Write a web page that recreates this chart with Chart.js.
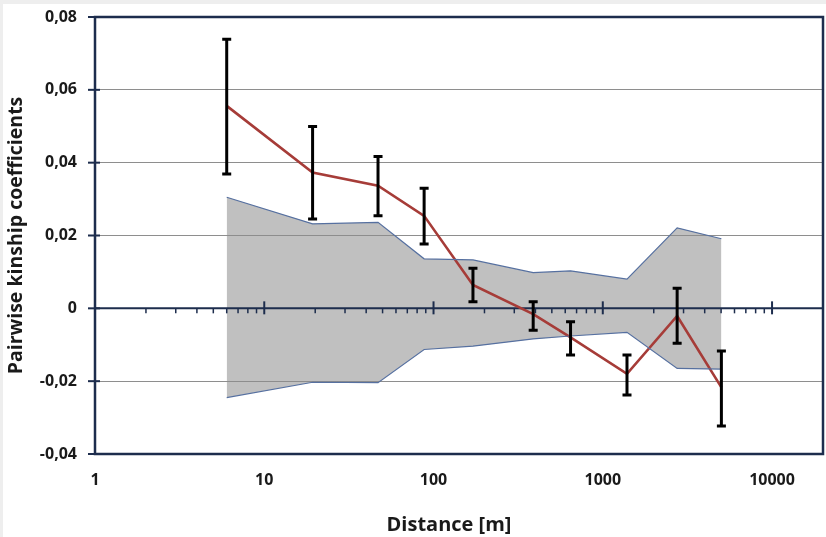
<!DOCTYPE html>
<html>
<head>
<meta charset="utf-8">
<script src="https://cdn.jsdelivr.net/npm/chart.js@4.4.1/dist/chart.umd.min.js"></script>
<style>
  html, body { margin: 0; padding: 0; background: #eeeeee; width: 826px; height: 537px; overflow: hidden; }
  #wrap { position: absolute; left: 3px; top: 4px; width: 823px; height: 533px; background: #ffffff; }
  canvas { display: block; }
</style>
</head>
<body>
<div id="wrap"><canvas id="c" width="823" height="533"></canvas></div>
<script>
// ---- Data ----
const distances = [6, 19.3, 47, 88, 171, 388, 645, 1390, 2750, 5020];
const kinship   = [0.0556, 0.0373, 0.0337, 0.0254, 0.0064, -0.0016, -0.0080, -0.0180, -0.0021, -0.0217];
const errHigh   = [0.0739, 0.0499, 0.0417, 0.0330, 0.0110, 0.0018, -0.0037, -0.0128, 0.0055, -0.0117];
const errLow    = [0.0369, 0.0245, 0.0254, 0.0177, 0.0018, -0.0060, -0.0128, -0.0238, -0.0096, -0.0323];
const upperCI   = [0.0305, 0.0232, 0.0236, 0.0136, 0.0133, 0.0098, 0.0103, 0.0080, 0.0221, 0.0191];
const lowerCI   = [-0.0245, -0.0203, -0.0204, -0.0113, -0.0104, -0.0084, -0.0076, -0.0066, -0.0165, -0.0167];
const xTickValues = [1, 10, 100, 1000, 10000];
const yTickValues = [-0.04, -0.02, 0, 0.02, 0.04, 0.06, 0.08];

const NAVY = '#1d2d4d';
const FONT = '"Open Sans", sans-serif';

function pts(ys) { return distances.map((d, i) => ({ x: d, y: ys[i] })); }

const axesPlugin = {
  id: 'axesDeco',
  beforeDatasetsDraw(chart) {
    const { ctx, chartArea, scales: { x, y } } = chart;
    const y0 = y.getPixelForValue(0);
    ctx.save();
    ctx.strokeStyle = NAVY;
    ctx.lineWidth = 2;
    ctx.beginPath();
    ctx.moveTo(chartArea.left, y0);
    ctx.lineTo(chartArea.right, y0);
    ctx.stroke();
    xTickValues.forEach(v => {
      const px = x.getPixelForValue(v);
      ctx.beginPath();
      ctx.moveTo(px, y0 - 7);
      ctx.lineTo(px, y0 + 6);
      ctx.stroke();
    });
    ctx.lineWidth = 1.5;
    xTickValues.forEach(dec => {
      for (let m = 2; m <= 9; m++) {
        const v = dec * m;
        if (v >= x.max) continue;
        const px = x.getPixelForValue(v);
        ctx.beginPath();
        ctx.moveTo(px, y0);
        ctx.lineTo(px, y0 + 5);
        ctx.stroke();
      }
    });
    ctx.restore();
  },
  afterDatasetsDraw(chart) {
    const { ctx, scales: { x, y } } = chart;
    ctx.save();
    ctx.strokeStyle = '#000000';
    ctx.lineWidth = 3;
    distances.forEach((d, i) => {
      const px = x.getPixelForValue(d);
      const top = y.getPixelForValue(errHigh[i]);
      const bot = y.getPixelForValue(errLow[i]);
      ctx.beginPath();
      ctx.moveTo(px, top); ctx.lineTo(px, bot);
      ctx.moveTo(px - 4.5, top); ctx.lineTo(px + 4.5, top);
      ctx.moveTo(px - 4.5, bot); ctx.lineTo(px + 4.5, bot);
      ctx.stroke();
    });
    ctx.restore();
  },
  afterDraw(chart) {
    const { ctx, chartArea, scales: { y } } = chart;
    ctx.save();
    ctx.strokeStyle = NAVY;
    ctx.lineWidth = 2.5;
    ctx.strokeRect(chartArea.left, chartArea.top, chartArea.right - chartArea.left, chartArea.bottom - chartArea.top);
    ctx.lineWidth = 2;
    yTickValues.forEach(v => {
      const py = y.getPixelForValue(v);
      ctx.beginPath();
      ctx.moveTo(chartArea.left - 7, py);
      ctx.lineTo(chartArea.left + 5, py);
      ctx.stroke();
    });
    ctx.fillStyle = '#1a1a1a';
    ctx.font = 'bold 20px ' + FONT;
    ctx.textAlign = 'center';
    ctx.textBaseline = 'middle';
    ctx.fillText('Distance [m]', 446, 521);
    ctx.restore();
  }
};

new Chart(document.getElementById('c'), {
  type: 'line',
  data: {
    datasets: [
      {
        label: 'upper',
        data: pts(upperCI),
        borderColor: '#5670a0',
        borderWidth: 1.2,
        backgroundColor: 'rgba(140,140,140,0.55)',
        fill: '+1',
        pointRadius: 0,
        tension: 0
      },
      {
        label: 'lower',
        data: pts(lowerCI),
        borderColor: '#5670a0',
        borderWidth: 1.2,
        fill: false,
        pointRadius: 0,
        tension: 0
      },
      {
        label: 'kinship',
        data: pts(kinship),
        borderColor: '#a63c38',
        borderWidth: 2.6,
        fill: false,
        pointRadius: 0,
        tension: 0
      }
    ]
  },
  options: {
    responsive: false,
    animation: false,
    devicePixelRatio: 1,
    layout: { autoPadding: false, padding: { top: 13, right: 3, left: 0, bottom: 0 } },
    plugins: {
      legend: { display: false },
      tooltip: { enabled: false },
      filler: { drawTime: 'beforeDatasetsDraw' }
    },
    scales: {
      x: {
        type: 'logarithmic',
        min: 1,
        max: 20000,
        grid: { display: false, drawTicks: false },
        border: { display: false },
        afterBuildTicks(scale) { scale.ticks = xTickValues.map(v => ({ value: v })); },
        afterFit(scale) { scale.height = 83; scale.paddingLeft = 0; scale.paddingRight = 0; },
        ticks: {
          autoSkip: false,
          maxRotation: 0,
          padding: 17,
          color: '#1a1a1a',
          font: { family: FONT, size: 16, weight: 'bold' },
          callback: v => String(v)
        }
      },
      y: {
        min: -0.04,
        max: 0.08,
        grid: { color: '#8e8e8e', lineWidth: 1, drawTicks: false },
        border: { display: false },
        afterBuildTicks(scale) { scale.ticks = yTickValues.map(v => ({ value: v })); },
        afterFit(scale) { scale.width = 92; scale.paddingTop = 0; scale.paddingBottom = 0; },
        ticks: {
          padding: 18,
          color: '#1a1a1a',
          font: { family: FONT, size: 16, weight: 'bold' },
          callback: v => (Math.abs(v) < 1e-9 ? '0' : v.toFixed(2).replace('.', ','))
        },
        title: {
          display: true,
          text: 'Pairwise kinship coefficients',
          color: '#1a1a1a',
          font: { family: FONT, size: 19.5, weight: 'bold' },
          padding: { top: 2, bottom: 0 }
        }
      }
    }
  },
  plugins: [axesPlugin]
});
</script>
</body>
</html>
